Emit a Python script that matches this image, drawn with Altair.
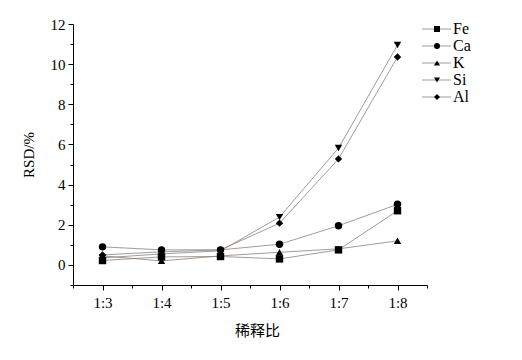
import altair as alt
import pandas as pd

ratios = ["1:3", "1:4", "1:5", "1:6", "1:7", "1:8"]
series = ["Fe", "Ca", "K", "Si", "Al"]
fe = [0.22, 0.40, 0.42, 0.30, 0.75, 2.70]
ca = [0.90, 0.75, 0.75, 1.03, 1.95, 3.02]
k = [0.45, 0.20, 0.45, 0.63, 0.80, 1.20]
si = [0.35, 0.55, 0.70, 2.38, 5.82, 10.95]
al = [0.50, 0.65, 0.75, 2.08, 5.28, 10.36]
shapes = ["square", "circle", "triangle-up", "triangle-down", "diamond"]
y_major = [0, 2, 4, 6, 8, 10, 12]
y_minor = [-1, 1, 3, 5, 7, 9, 11]
x_minor = [-0.5, 0.5, 1.5, 2.5, 3.5, 4.5, 5.5]

rows = []
for name, vals in zip(series, [fe, ca, k, si, al]):
    for i, (r, v) in enumerate(zip(ratios, vals)):
        rows.append({"idx": i, "ratio": r, "series": name, "value": v})
df = pd.DataFrame(rows)
leg = pd.DataFrame({"series": series})

serif = "Liberation Serif"
line_col = "#8a817c"
label_expr = "[" + ",".join("'%s'" % r for r in ratios) + "][datum.value]"

xscale = alt.Scale(domain=[-0.5, 5.5], nice=False, zero=False)
yscale = alt.Scale(domain=[-1, 12], nice=False, zero=False)
shape_scale = alt.Scale(domain=series, range=shapes)

x_major_axis = alt.Axis(orient="bottom", values=list(range(len(ratios))), labelExpr=label_expr,
                        title="稀释比", titleFont="Noto Sans CJK SC", titleFontSize=15,
                        titleFontWeight="normal", titlePadding=13, titleX=184,
                        tickSize=5, labelPadding=5, labelFont=serif, labelFontSize=15)
y_major_axis = alt.Axis(orient="left", values=y_major, title="RSD/%", titleFont=serif,
                        titleFontSize=15, titleFontWeight="normal", titlePadding=14,
                        tickSize=5, labelPadding=3, labelFont=serif, labelFontSize=15)

lines = alt.Chart(df).mark_line(color=line_col, strokeWidth=0.8).encode(
    x=alt.X("idx:Q", scale=xscale, axis=x_major_axis),
    y=alt.Y("value:Q", scale=yscale, axis=y_major_axis),
    detail="series:N",
)

points = alt.Chart(df).mark_point(filled=True, color="black", opacity=1, size=55).encode(
    x=alt.X("idx:Q", scale=xscale,
            axis=alt.Axis(orient="bottom", values=x_minor, labels=False, title=None,
                          tickSize=3, domain=False)),
    y=alt.Y("value:Q", scale=yscale,
            axis=alt.Axis(orient="left", values=y_minor, labels=False, title=None,
                          tickSize=3, domain=False)),
    shape=alt.Shape("series:N", scale=shape_scale, legend=None),
)

legy = alt.Y("series:N", scale=alt.Scale(type="point", domain=series, range=[5, 73], padding=0),
             axis=None)

leg_lines = alt.Chart(leg).mark_rule(color=line_col, strokeWidth=0.8).encode(
    x=alt.value(349), x2=alt.value(378), y=legy,
)
leg_pts = alt.Chart(leg).mark_point(filled=True, color="black", opacity=1, size=36).encode(
    x=alt.value(364), y=legy,
    shape=alt.Shape("series:N", scale=shape_scale, legend=None),
)
leg_text = alt.Chart(leg).mark_text(align="left", baseline="middle", font=serif, fontSize=16,
                                    color="black").encode(
    x=alt.value(380), y=legy, text="series:N",
)

legend = alt.layer(leg_lines, leg_pts, leg_text)

main = alt.layer(lines, points).resolve_axis(x="independent", y="independent")

chart = alt.layer(main, legend).resolve_scale(y="independent").properties(
    width=354, height=261,
    autosize=alt.AutoSizeParams(type="none"),
    padding={"left": 65, "top": 16, "right": 87, "bottom": 67},
).configure_view(stroke=None).configure_axis(
    grid=False, domainColor="black", tickColor="black", labelColor="black", titleColor="black",
    labelFont=serif, labelFontSize=15, domainWidth=1, tickWidth=1,
)

chart.save("out.html", embed_options={"renderer": "svg", "actions": False})
